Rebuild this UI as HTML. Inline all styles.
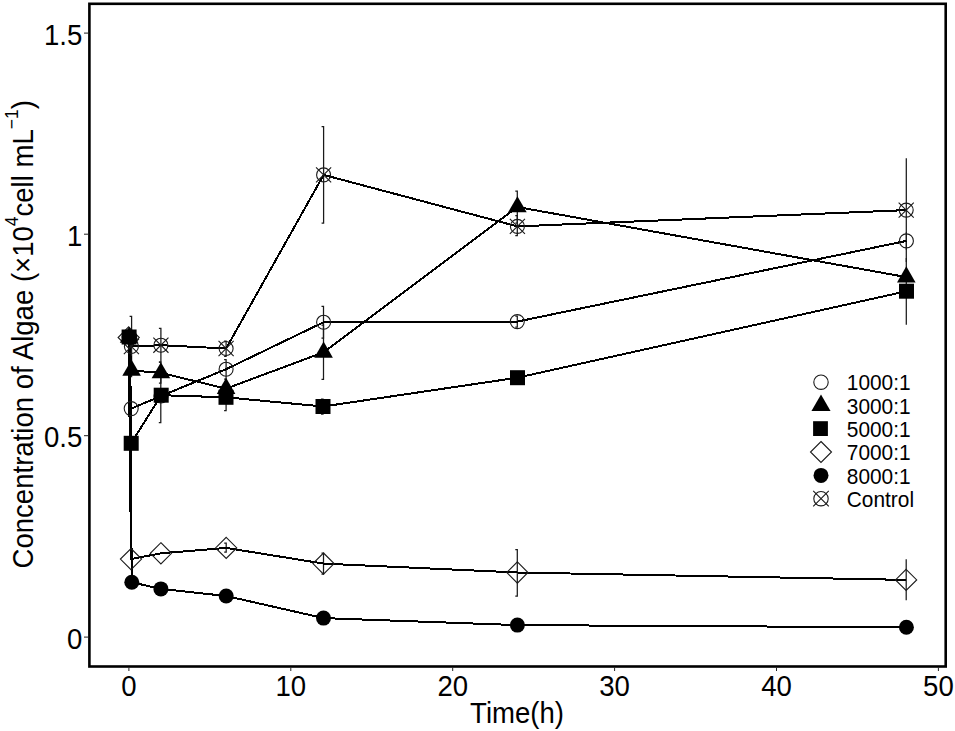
<!DOCTYPE html>
<html><head><meta charset="utf-8"><style>
html,body{margin:0;padding:0;background:#fff;}
body{width:955px;height:731px;overflow:hidden;}
svg{display:block;font-family:"Liberation Sans",sans-serif;}
</style></head><body>
<svg width="955" height="731" viewBox="0 0 955 731">
<rect width="955" height="731" fill="#fff"/>

<rect x="89.4" y="3.8" width="856.3" height="662.7" fill="none" stroke="#000" stroke-width="2.6"/>
<line x1="84" y1="33.1" x2="88.4" y2="33.1" stroke="#222" stroke-width="1"/>
<text transform="translate(82.3,44.8) scale(0.96,1)" font-size="28.7" text-anchor="end">1.5</text>
<line x1="84" y1="234.2" x2="88.4" y2="234.2" stroke="#222" stroke-width="1"/>
<text transform="translate(82.3,245.9) scale(0.96,1)" font-size="28.7" text-anchor="end">1</text>
<line x1="84" y1="435.7" x2="88.4" y2="435.7" stroke="#222" stroke-width="1"/>
<text transform="translate(82.3,447.4) scale(0.96,1)" font-size="28.7" text-anchor="end">0.5</text>
<line x1="84" y1="637.1" x2="88.4" y2="637.1" stroke="#222" stroke-width="1"/>
<text transform="translate(82.3,648.8) scale(0.96,1)" font-size="28.7" text-anchor="end">0</text>
<line x1="128.9" y1="667.5" x2="128.9" y2="671" stroke="#222" stroke-width="1"/>
<text transform="translate(128.9,695.6) scale(0.96,1)" font-size="28.7" text-anchor="middle">0</text>
<line x1="290.8" y1="667.5" x2="290.8" y2="671" stroke="#222" stroke-width="1"/>
<text transform="translate(290.8,695.6) scale(0.96,1)" font-size="28.7" text-anchor="middle">10</text>
<line x1="452.7" y1="667.5" x2="452.7" y2="671" stroke="#222" stroke-width="1"/>
<text transform="translate(452.7,695.6) scale(0.96,1)" font-size="28.7" text-anchor="middle">20</text>
<line x1="614.6" y1="667.5" x2="614.6" y2="671" stroke="#222" stroke-width="1"/>
<text transform="translate(614.6,695.6) scale(0.96,1)" font-size="28.7" text-anchor="middle">30</text>
<line x1="776.5" y1="667.5" x2="776.5" y2="671" stroke="#222" stroke-width="1"/>
<text transform="translate(776.5,695.6) scale(0.96,1)" font-size="28.7" text-anchor="middle">40</text>
<line x1="938.4" y1="667.5" x2="938.4" y2="671" stroke="#222" stroke-width="1"/>
<text transform="translate(938.4,695.6) scale(0.96,1)" font-size="28.7" text-anchor="middle">50</text>
<text transform="translate(517,723.4) scale(0.96,1)" font-size="28.7" text-anchor="middle">Time(h)</text>
<text transform="translate(32.6,334.3) rotate(-90) scale(0.96,1)" font-size="28.7" text-anchor="middle">Concentration of Algae (×10<tspan font-size="18.2" dy="-15">4</tspan><tspan dy="15">cell mL</tspan><tspan font-size="18.2" dy="-15">−1</tspan><tspan dy="15">)</tspan></text>
<path d="M129.6 316.4H131.6V376.6H129.6" fill="none" stroke="#1a1a1a" stroke-width="1.25"/>
<path d="M158.9 328.4H160.9V362H158.9" fill="none" stroke="#1a1a1a" stroke-width="1.25"/>
<path d="M224.1 341H226.1V356.4H224.1" fill="none" stroke="#1a1a1a" stroke-width="1.25"/>
<path d="M321.6 126.5H323.6V223H321.6" fill="none" stroke="#1a1a1a" stroke-width="1.25"/>
<path d="M515.3 215.7H517.3V235.5H515.3" fill="none" stroke="#1a1a1a" stroke-width="1.25"/>
<path d="M906.3 158.3V262" fill="none" stroke="#1a1a1a" stroke-width="1.25"/>
<path d="M321.5 306.3H323.5V338H321.5" fill="none" stroke="#1a1a1a" stroke-width="1.25"/>
<path d="M224.1 359.5H226.1V379H224.1" fill="none" stroke="#1a1a1a" stroke-width="1.25"/>
<path d="M906.4 232V250" fill="none" stroke="#1a1a1a" stroke-width="1.25"/>
<path d="M515.3 316H517.3V327H515.3" fill="none" stroke="#1a1a1a" stroke-width="1.25"/>
<path d="M321.5 325H323.5V379.3H321.5" fill="none" stroke="#1a1a1a" stroke-width="1.25"/>
<path d="M515.3 191.1H517.3V223H515.3" fill="none" stroke="#1a1a1a" stroke-width="1.25"/>
<path d="M158.9 362H160.9V383H158.9" fill="none" stroke="#1a1a1a" stroke-width="1.25"/>
<path d="M158.8 368.7H160.8V422.5H158.8" fill="none" stroke="#1a1a1a" stroke-width="1.25"/>
<path d="M224.1 385H226.1V410.5H224.1" fill="none" stroke="#1a1a1a" stroke-width="1.25"/>
<path d="M906.3 258V324.8" fill="none" stroke="#1a1a1a" stroke-width="1.25"/>
<path d="M321 399H323V414H321" fill="none" stroke="#1a1a1a" stroke-width="1.25"/>
<path d="M515.3 549.6H517.3V596H515.3" fill="none" stroke="#1a1a1a" stroke-width="1.25"/>
<path d="M906.2 559.3V600.2" fill="none" stroke="#1a1a1a" stroke-width="1.25"/>
<path d="M321.5 553H323.5V574H321.5" fill="none" stroke="#1a1a1a" stroke-width="1.25"/>
<path d="M224.2 543H226.2V552H224.2" fill="none" stroke="#1a1a1a" stroke-width="1.25"/>
<polyline points="131.4,346.5 160.9,345.2 226.1,348.5 323.6,174.9 517.4,226.4 906.2,210.1" fill="none" stroke="#000" stroke-width="2" stroke-linejoin="round" shape-rendering="crispEdges"/>
<polyline points="129.1,337 131.2,408.6 161,396 226.1,369.2 323.6,322.2 517.3,321.6 906.4,240.9" fill="none" stroke="#000" stroke-width="2" stroke-linejoin="round" shape-rendering="crispEdges"/>
<polyline points="129.1,337.5 131.6,370.5 160.9,372.9 226.1,388.6 323.6,352.3 517.4,207 906.3,277.1" fill="none" stroke="#000" stroke-width="2" stroke-linejoin="round" shape-rendering="crispEdges"/>
<polyline points="129.1,337 131.2,443.3 161.2,395.2 226,397.3 323,406.5 517.5,377.7 906.5,291.2" fill="none" stroke="#000" stroke-width="2" stroke-linejoin="round" shape-rendering="crispEdges"/>
<polyline points="128.7,337.5 131,559.1 160.9,553.3 226.2,547.9 323.5,563.6 517.4,572.5 906.1,579.9" fill="none" stroke="#000" stroke-width="2" stroke-linejoin="round" shape-rendering="crispEdges"/>
<polyline points="129.7,337 131.8,582.3 160.9,588.9 226.2,596 323.5,618.1 517.4,625.1 906.4,627.3" fill="none" stroke="#000" stroke-width="2" stroke-linejoin="round" shape-rendering="crispEdges"/>
<polygon points="128.7,326.9 139.3,337.5 128.7,348.1 118.1,337.5" fill="none" stroke="#1a1a1a" stroke-width="1.1"/>
<polygon points="131,548.5 141.6,559.1 131,569.7 120.4,559.1" fill="none" stroke="#1a1a1a" stroke-width="1.1"/>
<polygon points="160.9,542.7 171.5,553.3 160.9,563.9 150.3,553.3" fill="none" stroke="#1a1a1a" stroke-width="1.1"/>
<polygon points="226.2,537.3 236.8,547.9 226.2,558.5 215.6,547.9" fill="none" stroke="#1a1a1a" stroke-width="1.1"/>
<polygon points="323.5,553 334.1,563.6 323.5,574.2 312.9,563.6" fill="none" stroke="#1a1a1a" stroke-width="1.1"/>
<polygon points="517.4,561.9 528,572.5 517.4,583.1 506.8,572.5" fill="none" stroke="#1a1a1a" stroke-width="1.1"/>
<polygon points="906.1,569.3 916.7,579.9 906.1,590.5 895.5,579.9" fill="none" stroke="#1a1a1a" stroke-width="1.1"/>
<circle cx="129.1" cy="337" r="7" fill="none" stroke="#1a1a1a" stroke-width="1.1"/>
<circle cx="131.2" cy="408.6" r="7" fill="none" stroke="#1a1a1a" stroke-width="1.1"/>
<circle cx="161" cy="396" r="7" fill="none" stroke="#1a1a1a" stroke-width="1.1"/>
<circle cx="226.1" cy="369.2" r="7" fill="none" stroke="#1a1a1a" stroke-width="1.1"/>
<circle cx="323.6" cy="322.2" r="7" fill="none" stroke="#1a1a1a" stroke-width="1.1"/>
<circle cx="517.3" cy="321.6" r="7" fill="none" stroke="#1a1a1a" stroke-width="1.1"/>
<circle cx="906.4" cy="240.9" r="7" fill="none" stroke="#1a1a1a" stroke-width="1.1"/>
<circle cx="131.4" cy="346.5" r="7" fill="none" stroke="#1a1a1a" stroke-width="1.1"/><path d="M123.84 338.94L138.96 354.06M123.84 354.06L138.96 338.94" stroke="#1a1a1a" stroke-width="1.1" fill="none"/>
<circle cx="160.9" cy="345.2" r="7" fill="none" stroke="#1a1a1a" stroke-width="1.1"/><path d="M153.34 337.64L168.46 352.76M153.34 352.76L168.46 337.64" stroke="#1a1a1a" stroke-width="1.1" fill="none"/>
<circle cx="226.1" cy="348.5" r="7" fill="none" stroke="#1a1a1a" stroke-width="1.1"/><path d="M218.54 340.94L233.66 356.06M218.54 356.06L233.66 340.94" stroke="#1a1a1a" stroke-width="1.1" fill="none"/>
<circle cx="323.6" cy="174.9" r="7" fill="none" stroke="#1a1a1a" stroke-width="1.1"/><path d="M316.04 167.34L331.16 182.46M316.04 182.46L331.16 167.34" stroke="#1a1a1a" stroke-width="1.1" fill="none"/>
<circle cx="517.4" cy="226.4" r="7" fill="none" stroke="#1a1a1a" stroke-width="1.1"/><path d="M509.84 218.84L524.96 233.96M509.84 233.96L524.96 218.84" stroke="#1a1a1a" stroke-width="1.1" fill="none"/>
<circle cx="906.2" cy="210.1" r="7" fill="none" stroke="#1a1a1a" stroke-width="1.1"/><path d="M898.64 202.54L913.76 217.66M898.64 217.66L913.76 202.54" stroke="#1a1a1a" stroke-width="1.1" fill="none"/>
<circle cx="129.7" cy="337" r="7.5" fill="#000"/>
<circle cx="131.8" cy="582.3" r="7.5" fill="#000"/>
<circle cx="160.9" cy="588.9" r="7.5" fill="#000"/>
<circle cx="226.2" cy="596" r="7.5" fill="#000"/>
<circle cx="323.5" cy="618.1" r="7.5" fill="#000"/>
<circle cx="517.4" cy="625.1" r="7.5" fill="#000"/>
<circle cx="906.4" cy="627.3" r="7.5" fill="#000"/>
<rect x="121.6" y="329.5" width="15" height="15" fill="#000"/>
<rect x="123.7" y="435.8" width="15" height="15" fill="#000"/>
<rect x="153.7" y="387.7" width="15" height="15" fill="#000"/>
<rect x="218.5" y="389.8" width="15" height="15" fill="#000"/>
<rect x="315.5" y="399" width="15" height="15" fill="#000"/>
<rect x="510" y="370.2" width="15" height="15" fill="#000"/>
<rect x="899" y="283.7" width="15" height="15" fill="#000"/>
<polygon points="129.1,326.77 138.39,342.87 119.81,342.87" fill="#000"/>
<polygon points="131.6,359.77 140.89,375.87 122.31,375.87" fill="#000"/>
<polygon points="160.9,362.17 170.19,378.27 151.61,378.27" fill="#000"/>
<polygon points="226.1,377.87 235.39,393.97 216.81,393.97" fill="#000"/>
<polygon points="323.6,341.57 332.89,357.67 314.31,357.67" fill="#000"/>
<polygon points="517.4,196.27 526.69,212.37 508.11,212.37" fill="#000"/>
<polygon points="906.3,266.37 915.59,282.47 897.01,282.47" fill="#000"/>
<circle cx="821" cy="382.2" r="7.2" fill="none" stroke="#1a1a1a" stroke-width="1.1"/>
<polygon points="821,394.46 830.56,411.02 811.44,411.02" fill="#000"/>
<rect x="813.1" y="421.2" width="14.8" height="14.8" fill="#000"/>
<polygon points="821,441.5 831.5,452 821,462.5 810.5,452" fill="none" stroke="#1a1a1a" stroke-width="1.1"/>
<circle cx="821" cy="475.4" r="7.5" fill="#000"/>
<circle cx="821" cy="498.7" r="7.2" fill="none" stroke="#1a1a1a" stroke-width="1.1"/><path d="M813.22 490.92L828.78 506.48M813.22 506.48L828.78 490.92" stroke="#1a1a1a" stroke-width="1.1" fill="none"/>
<text transform="translate(846.8,390.4) scale(0.96,1)" font-size="21.74" text-anchor="start">1000:1</text>
<text transform="translate(846.8,413.7) scale(0.96,1)" font-size="21.74" text-anchor="start">3000:1</text>
<text transform="translate(846.8,436.8) scale(0.96,1)" font-size="21.74" text-anchor="start">5000:1</text>
<text transform="translate(846.8,460.2) scale(0.96,1)" font-size="21.74" text-anchor="start">7000:1</text>
<text transform="translate(846.8,483.6) scale(0.96,1)" font-size="21.74" text-anchor="start">8000:1</text>
<text transform="translate(846.8,506.9) scale(0.96,1)" font-size="21.74" text-anchor="start">Control</text>
</svg>
</body></html>
